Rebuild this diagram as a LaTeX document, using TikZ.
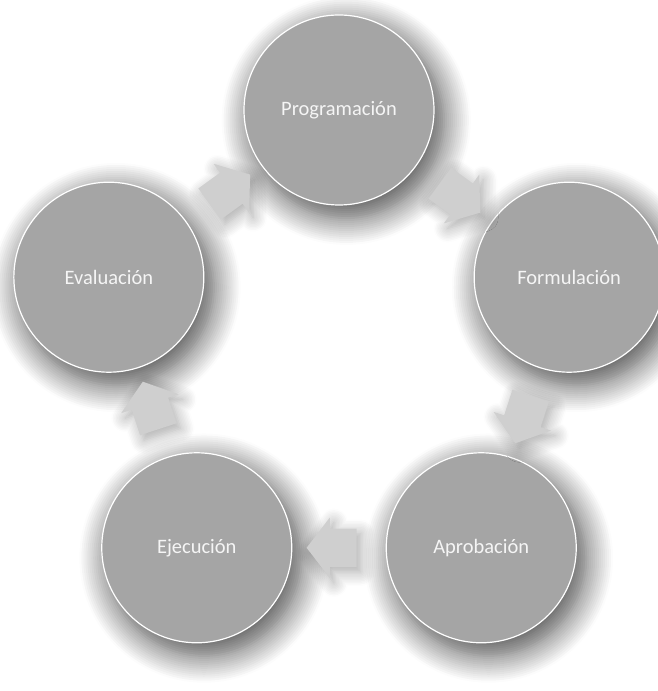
\documentclass[tikz,border=0pt]{standalone}
\usepackage{fontspec}
\setmainfont{Carlito}
\usetikzlibrary{shapes.arrows,shadows.blur,calc}
\definecolor{circfill}{HTML}{A5A5A5}
\definecolor{arrfill}{HTML}{CFCFCF}
\begin{document}
\begin{tikzpicture}[x=1pt,y=1pt,
  stage/.style={circle, minimum size=190pt, inner sep=0pt, fill=circfill,
    draw=white, line width=1.2pt, text=white!96!black,
    font=\fontsize{20.5}{24}\selectfont,
    blur shadow={shadow xshift=7pt, shadow yshift=-10pt, shadow blur radius=26pt,
      shadow blur steps=14, shadow opacity=70, shadow scale=1.03}},
  flow/.style={single arrow, minimum height=50pt, text height=19pt, text depth=19pt,
    text width=0pt, single arrow head extend=11pt, single arrow tip angle=105,
    inner sep=0pt, fill=arrfill, draw=none,
    blur shadow={shadow xshift=4pt, shadow yshift=-5pt, shadow blur radius=14pt,
      shadow blur steps=10, shadow opacity=35}}]
\useasboundingbox (0,0) rectangle (657,691);
\coordinate (ctr) at (339,339);
\node[stage] (pro) at ($(ctr)+(90:242)$) {Programación};
\node[stage] (for) at ($(ctr)+(18:242)$) {Formulación};
\node[stage] (apr) at ($(ctr)+(-54:242)$) {Aprobación};
\node[stage] (eje) at ($(ctr)+(-126:242)$) {Ejecución};
\node[stage] (eva) at ($(ctr)+(162:242)$) {Evaluación};
\node[flow, rotate=36] (a1) at ($(eva)!0.5!(pro)$) {};
\node[flow, rotate=-36] (a2) at ($(pro)!0.5!(for)$) {};
\node[flow, rotate=-108] (a3) at ($(for)!0.5!(apr)$) {};
\node[flow, rotate=180] (a4) at ($(apr)!0.5!(eje)$) {};
\node[flow, rotate=108] (a5) at ($(eje)!0.5!(eva)$) {};
\end{tikzpicture}
\end{document}
